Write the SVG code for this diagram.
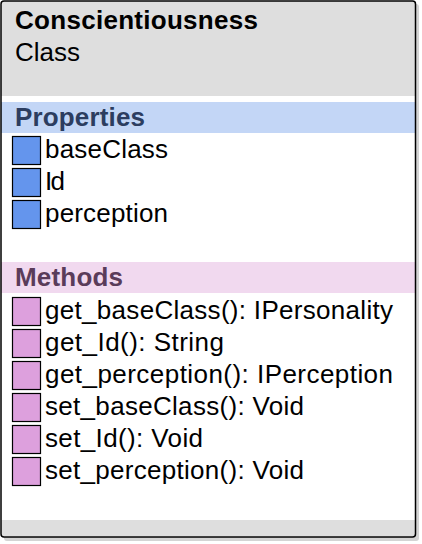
<svg xmlns="http://www.w3.org/2000/svg" width="422" height="544" viewBox="0 0 422 544">
  <style>
    .txt { font-family: "Liberation Sans", Arial, sans-serif; font-size: 26px; fill: #000; }
    .title { font-family: "Liberation Sans", Arial, sans-serif; font-size: 26px; font-weight: bold; fill: #000; }
    .sect { font-family: "Liberation Sans", Arial, sans-serif; font-size: 26px; font-weight: bold; }
    .prop { fill: #6495ed; stroke: #000; stroke-width: 1.2; }
    .meth { fill: #dda0dd; stroke: #000; stroke-width: 1.2; }
  </style>
  <rect width="422" height="544" fill="#ffffff"/>
  <g id="class-Conscientiousness">
    <!-- drop shadow -->
    <rect x="4" y="4" width="415" height="537" rx="3" fill="#d4d4d4"/>
    <!-- body -->
    <rect x="1" y="1" width="414.5" height="536" rx="3" fill="#ffffff"/>
    <rect x="1" y="1" width="414.5" height="95" fill="#dedede"/>
    <rect x="1" y="102" width="414.5" height="31" fill="#c3d6f6"/>
    <rect x="1" y="262" width="414.5" height="31" fill="#f1d9ef"/>
    <rect x="1" y="520" width="414.5" height="16" fill="#dedede"/>
    <rect x="1" y="1" width="414.5" height="536" rx="3" fill="none" stroke="#000" stroke-width="1.5"/>

    <text class="title" x="15" y="29" textLength="243">Conscientiousness</text>
    <text class="txt" x="15" y="61" textLength="65">Class</text>

    <text class="sect" x="15" y="126" textLength="130" fill="#2c3d60">Properties</text>
    <g id="properties">
      <rect class="prop" x="12.5" y="136.5" width="28" height="28"/>
      <text class="txt" x="45" y="158" textLength="123">baseClass</text>
      <rect class="prop" x="12.5" y="168.5" width="28" height="28"/>
      <text class="txt" x="45" y="190" textLength="20">Id</text>
      <rect class="prop" x="12.5" y="200.5" width="28" height="28"/>
      <text class="txt" x="45" y="222" textLength="123">perception</text>
    </g>

    <text class="sect" x="15" y="286" textLength="108" fill="#5a3c5a">Methods</text>
    <g id="methods">
      <rect class="meth" x="12.5" y="297.5" width="28" height="28"/>
      <text class="txt" x="45" y="319" textLength="348">get_baseClass(): IPersonality</text>
      <rect class="meth" x="12.5" y="329.5" width="28" height="28"/>
      <text class="txt" x="45" y="351" textLength="179">get_Id(): String</text>
      <rect class="meth" x="12.5" y="361.5" width="28" height="28"/>
      <text class="txt" x="45" y="383" textLength="348">get_perception(): IPerception</text>
      <rect class="meth" x="12.5" y="393.5" width="28" height="28"/>
      <text class="txt" x="45" y="415" textLength="259">set_baseClass(): Void</text>
      <rect class="meth" x="12.5" y="425.5" width="28" height="28"/>
      <text class="txt" x="45" y="447" textLength="158">set_Id(): Void</text>
      <rect class="meth" x="12.5" y="457.5" width="28" height="28"/>
      <text class="txt" x="45" y="479" textLength="259">set_perception(): Void</text>
    </g>
  </g>
</svg>
